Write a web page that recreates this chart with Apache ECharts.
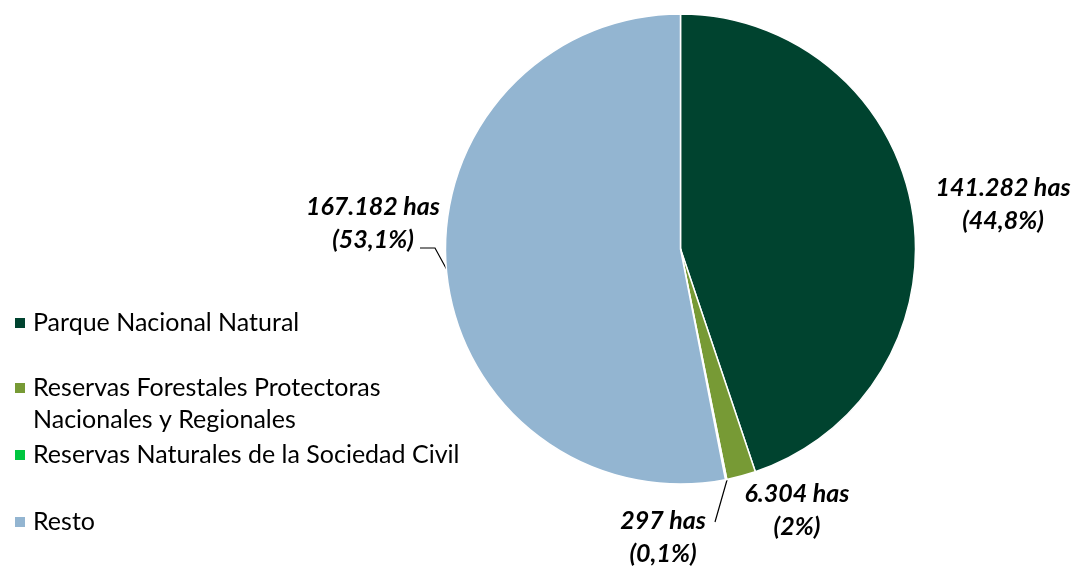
<!DOCTYPE html>
<html>
<head>
<meta charset="utf-8">
<script src="https://cdn.jsdelivr.net/npm/echarts@6/dist/echarts.min.js"></script>
<style>
  html, body { margin: 0; padding: 0; background: #fff; }
  #chart { width: 1075px; height: 567px; }
</style>
</head>
<body>
<div id="chart"></div>
<script>
// Superficie por categoría de protección (hectáreas)
const categories = [
  'Parque Nacional Natural',
  'Reservas Forestales Protectoras Nacionales y Regionales',
  'Reservas Naturales de la Sociedad Civil',
  'Resto'
];
const hectares = [141282, 6304, 297, 167182];
const sliceColors = ['#00432F', '#779A35', '#00C640', '#93B5D1'];

const total = hectares.reduce((a, b) => a + b, 0);

function fmtHas(v) {
  return String(v).replace(/\B(?=(\d{3})+(?!\d))/g, '.') + ' has';
}
function fmtPct(v) {
  let s = (v / total * 100).toFixed(1);
  if (s.endsWith('.0')) s = s.slice(0, -2);
  return '(' + s.replace('.', ',') + '%)';
}

// Label block centres and leader lines (layout only)
const labelCenters = [[1003, 204], [797, 510], [663, 537], [373, 223]];
const leaderLines = [
  null,
  null,
  [[727, 480], [721, 501], [715, 522]],
  [[447, 270], [435, 248], [420, 248]]
];

const FONT = 'Lato, "Open Sans", sans-serif';
const LEGEND_FS = 25;
const LINE_H = 32;

const chart = echarts.init(document.getElementById('chart'), null, { renderer: 'canvas' });

function legendFor(idx, top) {
  return {
    data: [categories[idx]],
    orient: 'vertical',
    left: 13,
    top: top,
    padding: 0,
    icon: 'rect',
    itemWidth: 12,
    itemHeight: 12,
    selectedMode: false,
    // the two-line entry gets an empty first row so its icon sits on the first text row
    formatter: (name) => name === categories[1]
      ? '{t| }\n{t|Reservas Forestales Protectoras}\n{t|Nacionales y Regionales}'
      : '{t|' + name + '}',
    textStyle: {
      fontFamily: FONT,
      fontSize: LEGEND_FS,
      color: '#000',
      lineHeight: LINE_H,
      rich: {
        t: { fontFamily: FONT, fontSize: LEGEND_FS, color: '#000', lineHeight: LINE_H, padding: [0, 0, 0, 2] }
      }
    }
  };
}

const option = {
  backgroundColor: '#ffffff',
  animation: false,
  legend: [
    legendFor(0, 307),
    legendFor(1, 340),
    legendFor(2, 439),
    legendFor(3, 506)
  ],
  series: [{
    type: 'pie',
    center: [680.5, 249],
    radius: 235,
    startAngle: 90,
    clockwise: true,
    avoidLabelOverlap: false,
    itemStyle: { borderColor: '#ffffff', borderWidth: 1.5 },
    label: {
      show: true,
      fontFamily: FONT,
      fontSize: 25,
      fontStyle: 'italic',
      fontWeight: 'bold',
      color: '#000',
      lineHeight: 33,
      align: 'center',
      formatter: (p) => fmtHas(p.value) + '\n' + fmtPct(p.value)
    },
    labelLine: { show: true, lineStyle: { color: '#000', width: 1.2 } },
    labelLayout: (params) => {
      const i = params.dataIndex;
      const out = {
        x: labelCenters[i][0],
        y: labelCenters[i][1],
        align: 'center',
        verticalAlign: 'middle'
      };
      if (leaderLines[i]) out.labelLinePoints = leaderLines[i];
      return out;
    },
    emphasis: { disabled: true },
    data: categories.map((name, i) => ({
      name: name,
      value: hectares[i],
      itemStyle: { color: sliceColors[i] },
      labelLine: { show: !!leaderLines[i] }
    }))
  }]
};

chart.setOption(option);
</script>
</body>
</html>
